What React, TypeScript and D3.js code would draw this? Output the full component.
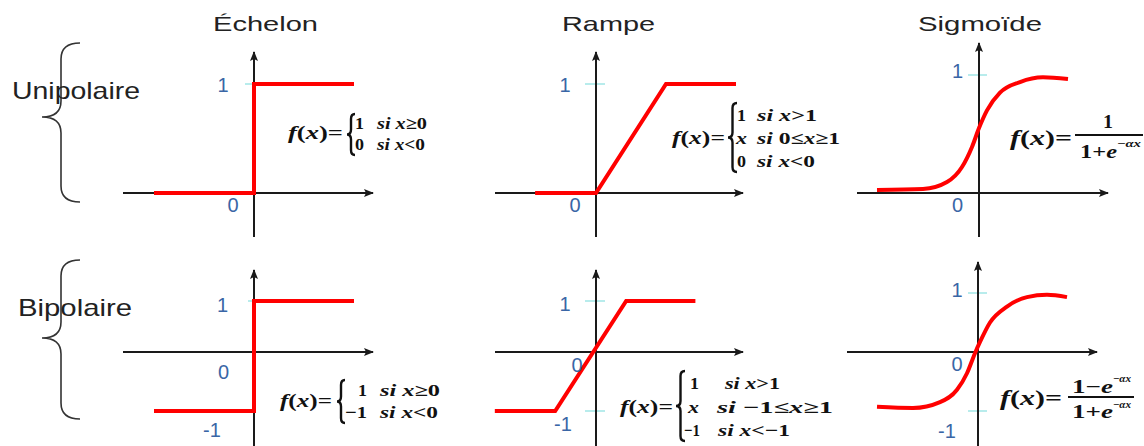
import React from "react";
import * as d3 from "d3";

type Pt = [number, number];

// ---- data (in each panel's own units) ----
const titles = ["Échelon", "Rampe", "Sigmoïde"];
const rowLabels = ["Unipolaire", "Bipolaire"];

const stepUni: Pt[] = [[-2, 0], [0, 0], [0, 1], [2, 1]];
const stepBi: Pt[] = [[-2, -1], [0, -1], [0, 1], [2, 1]];
const rampUni: Pt[] = [[-0.87, 0], [0, 0], [1, 1], [2, 1]];
const rampBi: Pt[] = [[-2.85, -1], [-1.15, -1], [0.85, 1], [2.8, 1]];
const sigUni: Pt[] = [
  [-4.08, 0.025], [-2.24, 0.034], [-1.28, 0.093], [-0.68, 0.22], [-0.28, 0.39],
  [0, 0.55], [0.32, 0.7], [0.84, 0.85], [1.64, 0.94], [2.56, 0.98], [3.56, 0.966],
];
const sigBi: Pt[] = [
  [-4.04, -0.93], [-2.6, -0.95], [-1.52, -0.85], [-0.84, -0.64], [-0.44, -0.36],
  [-0.12, -0.02], [0.08, 0.17], [0.48, 0.5], [1.16, 0.77], [1.96, 0.93],
  [2.76, 0.97], [3.56, 0.93],
];
const tickLabelsUni = ["1", "0"];
const tickLabelsBi = ["1", "0", "-1"];
const tickValuesUni = [1, 0];
const tickValuesBi = [1, 0, -1];

// ---- layout ----
const W = 1144;
const H = 446;
const RED = "#ff0000";
const AXIS = "#1a1a1a";
const BLUE = "#3a66a6";
const CYAN = "#b8ecec";

type Panel = {
  data: Pt[];
  smooth: boolean;
  axisX: number;
  axisY: number;
  yTop: number;
  yBottom: number;
  xStart: number;
  xEnd: number;
  xUnit: number;
  yDom: number[];
  yRng: number[];
  ticks: { v: number; x0: number; x1: number }[];
  labels: string[];
  values: number[];
  lx: number[];
  ly: number[];
};

const panels: Panel[] = [
  {
    data: stepUni, smooth: false, axisX: 254, axisY: 193, yTop: 52, yBottom: 237,
    xStart: 123, xEnd: 373, xUnit: 50, yDom: [0, 1], yRng: [193, 84],
    ticks: [{ v: 1, x0: 245, x1: 254 }],
    labels: tickLabelsUni, values: tickValuesUni, lx: [223, 233], ly: [85, 204.5],
  },
  {
    data: rampUni, smooth: false, axisX: 596, axisY: 193, yTop: 52, yBottom: 237,
    xStart: 495, xEnd: 743, xUnit: 70, yDom: [0, 1], yRng: [193, 84],
    ticks: [{ v: 1, x0: 585, x1: 605 }],
    labels: tickLabelsUni, values: tickValuesUni, lx: [565, 575], ly: [85, 204.5],
  },
  {
    data: sigUni, smooth: true, axisX: 979, axisY: 193, yTop: 43, yBottom: 237,
    xStart: 857, xEnd: 1108, xUnit: 25, yDom: [0, 1], yRng: [193, 75],
    ticks: [{ v: 1, x0: 968, x1: 987 }],
    labels: tickLabelsUni, values: tickValuesUni, lx: [957.5, 957.5], ly: [71, 204.5],
  },
  {
    data: stepBi, smooth: false, axisX: 254, axisY: 352, yTop: 270, yBottom: 446,
    xStart: 123, xEnd: 373, xUnit: 50, yDom: [-1, 0, 1], yRng: [411, 352, 301],
    ticks: [{ v: 1, x0: 248, x1: 254 }],
    labels: tickLabelsBi, values: tickValuesBi, lx: [222.5, 223.5, 212], ly: [304.5, 372, 430],
  },
  {
    data: rampBi, smooth: false, axisX: 596, axisY: 352, yTop: 270, yBottom: 446,
    xStart: 495, xEnd: 743, xUnit: 35.5, yDom: [-1, 0, 1], yRng: [411, 352, 301],
    ticks: [{ v: 1, x0: 585, x1: 605 }, { v: -1, x0: 585, x1: 605 }],
    labels: tickLabelsBi, values: tickValuesBi, lx: [565, 577, 563], ly: [304, 365, 424],
  },
  {
    data: sigBi, smooth: true, axisX: 978, axisY: 352, yTop: 262, yBottom: 446,
    xStart: 847, xEnd: 1097, xUnit: 25, yDom: [-1, 0, 1], yRng: [411, 352, 293],
    ticks: [{ v: 1, x0: 968, x1: 987 }, { v: -1, x0: 968, x1: 987 }],
    labels: tickLabelsBi, values: tickValuesBi, lx: [957, 957, 947], ly: [289.5, 364, 431],
  },
];

const titleLayout = [
  { x: 213, w: 105 },
  { x: 562, w: 93 },
  { x: 918, w: 124 },
];
const rowLayout = [
  { x: 12, w: 128, y: 90, brace: { x0: 42, w: 38, y0: 43, ym: 117, y1: 202 } },
  { x: 18, w: 114, y: 307, brace: { x0: 42, w: 38, y0: 260, ym: 338, y1: 419 } },
];

function bracePath(x0: number, w: number, y0: number, ym: number, y1: number, r: number) {
  const xm = x0 + w / 2;
  return [
    `M${x0 + w},${y0}`,
    `Q${xm},${y0} ${xm},${y0 + r}`,
    `L${xm},${ym - r}`,
    `Q${xm},${ym} ${x0},${ym}`,
    `Q${xm},${ym} ${xm},${ym + r}`,
    `L${xm},${y1 - r}`,
    `Q${xm},${y1} ${x0 + w},${y1}`,
  ].join(" ");
}

const SERIF = "'Liberation Serif', 'Times New Roman', serif";
const SANS = "'Liberation Sans', Arial, sans-serif";

type Seg = { t: string; it?: boolean };
type Piece = { x: number; y: number; w: number; segs: Seg[]; size?: number };

function T({ p }: { p: Piece }) {
  return (
    <text
      x={p.x}
      y={p.y}
      textLength={p.w}
      lengthAdjust="spacingAndGlyphs"
      dominantBaseline="central"
      fontFamily={SERIF}
      fontWeight="bold"
      fontSize={p.size ?? 17}
      fill="#111"
    >
      {p.segs.map((s, i) => (
        <tspan key={i} fontStyle={s.it ? "italic" : "normal"}>
          {s.t}
        </tspan>
      ))}
    </text>
  );
}

const fx: Seg[] = [{ t: "f", it: true }, { t: "(" }, { t: "x", it: true }, { t: ")=" }];

const formulaPieces: Piece[] = [
  // step unipolar
  { x: 288, y: 133, w: 55, segs: fx, size: 18 },
  { x: 355, y: 123, w: 9, segs: [{ t: "1" }] },
  { x: 377, y: 123, w: 50, segs: [{ t: "si x", it: true }, { t: "≥0" }] },
  { x: 355, y: 144, w: 9, segs: [{ t: "0" }] },
  { x: 377, y: 144, w: 48, segs: [{ t: "si x", it: true }, { t: "<0" }] },
  // ramp unipolar
  { x: 672, y: 138, w: 53, segs: fx, size: 18 },
  { x: 737, y: 115, w: 9, segs: [{ t: "1" }] },
  { x: 757, y: 115, w: 60, segs: [{ t: "si x", it: true }, { t: ">1" }] },
  { x: 736, y: 138, w: 11, segs: [{ t: "x", it: true }] },
  { x: 757, y: 138, w: 83, segs: [{ t: "si ", it: true }, { t: "0≤" }, { t: "x", it: true }, { t: "≥1" }] },
  { x: 737, y: 161, w: 9, segs: [{ t: "0" }] },
  { x: 757, y: 161, w: 58, segs: [{ t: "si x", it: true }, { t: "<0" }] },
  // sigmoid unipolar
  { x: 1010, y: 138, w: 62, segs: fx, size: 20 },
  { x: 1103, y: 121, w: 10, segs: [{ t: "1" }], size: 19 },
  { x: 1080, y: 151, w: 37, segs: [{ t: "1+" }, { t: "e", it: true }], size: 19 },
  { x: 1117, y: 143, w: 24, segs: [{ t: "−" }, { t: "αx", it: true }], size: 11 },
  // step bipolar
  { x: 280, y: 401, w: 52, segs: fx, size: 18 },
  { x: 358, y: 390, w: 9, segs: [{ t: "1" }] },
  { x: 380, y: 390, w: 60, segs: [{ t: "si x", it: true }, { t: "≥0" }] },
  { x: 345, y: 412, w: 22, segs: [{ t: "−1" }] },
  { x: 380, y: 412, w: 58, segs: [{ t: "si x", it: true }, { t: "<0" }] },
  // ramp bipolar
  { x: 620, y: 407, w: 53, segs: fx, size: 18 },
  { x: 690, y: 383, w: 9, segs: [{ t: "1" }] },
  { x: 725, y: 383, w: 55, segs: [{ t: "si x", it: true }, { t: ">1" }] },
  { x: 688, y: 407, w: 11, segs: [{ t: "x", it: true }] },
  { x: 717, y: 407, w: 116, segs: [{ t: "si ", it: true }, { t: "−1≤" }, { t: "x", it: true }, { t: "≥1" }] },
  { x: 684, y: 430, w: 16, segs: [{ t: "−1" }] },
  { x: 718, y: 430, w: 72, segs: [{ t: "si x", it: true }, { t: "<−1" }] },
  // sigmoid bipolar
  { x: 1000, y: 398, w: 62, segs: fx, size: 20 },
  { x: 1072, y: 386, w: 41, segs: [{ t: "1−" }, { t: "e", it: true }], size: 19 },
  { x: 1113, y: 378, w: 18, segs: [{ t: "−" }, { t: "αx", it: true }], size: 11 },
  { x: 1072, y: 411, w: 41, segs: [{ t: "1+" }, { t: "e", it: true }], size: 19 },
  { x: 1113, y: 404, w: 18, segs: [{ t: "−" }, { t: "αx", it: true }], size: 11 },
];

const formulaBraces = [
  { x0: 347, w: 8, y0: 114, y1: 155 },
  { x0: 728, w: 9, y0: 103, y1: 172 },
  { x0: 337, w: 8, y0: 380, y1: 423 },
  { x0: 676, w: 9, y0: 371, y1: 441 },
];
const fractionBars = [
  { x0: 1075, x1: 1143, y: 135 },
  { x0: 1068, x1: 1134, y: 397 },
];

export default function App() {
  return (
    <svg
      width={W}
      height={H}
      style={{ position: "absolute", left: 0, top: 0, background: "#fff" }}
    >
      <defs>
        <marker
          id="arr"
          viewBox="0 0 10 8"
          refX={9}
          refY={4}
          markerWidth={10}
          markerHeight={8}
          markerUnits="userSpaceOnUse"
          orient="auto"
        >
          <path d="M0,0 L10,4 L0,8 L2,4 z" fill={AXIS} />
        </marker>
      </defs>
      <rect width={W} height={H} fill="#fff" />

      {titles.map((t, i) => (
        <text
          key={t}
          x={titleLayout[i].x}
          y={31}
          textLength={titleLayout[i].w}
          lengthAdjust="spacingAndGlyphs"
          fontFamily={SANS}
          fontSize={21}
          fill="#222"
        >
          {t}
        </text>
      ))}

      {rowLabels.map((t, i) => {
        const r = rowLayout[i];
        const b = r.brace;
        return (
          <g key={t}>
            <path
              d={bracePath(b.x0, b.w, b.y0, b.ym, b.y1, 16)}
              fill="none"
              stroke="#333"
              strokeWidth={1.6}
            />
            <text
              x={r.x}
              y={r.y}
              textLength={r.w}
              lengthAdjust="spacingAndGlyphs"
              dominantBaseline="central"
              fontFamily={SANS}
              fontSize={24}
              fill="#222"
            >
              {t}
            </text>
          </g>
        );
      })}

      {panels.map((p, i) => {
        const x = d3.scaleLinear().domain([0, 1]).range([p.axisX, p.axisX + p.xUnit]);
        const y = d3.scaleLinear().domain(p.yDom).range(p.yRng);
        const line = d3
          .line<Pt>()
          .x((d) => x(d[0]))
          .y((d) => y(d[1]))
          .curve(p.smooth ? d3.curveMonotoneX : d3.curveLinear);
        return (
          <g key={i}>
            {p.ticks.map((t, j) => (
              <line
                key={j}
                x1={t.x0}
                x2={t.x1}
                y1={y(t.v)}
                y2={y(t.v)}
                stroke={CYAN}
                strokeWidth={2}
              />
            ))}
            <line
              x1={p.xStart}
              x2={p.xEnd}
              y1={p.axisY}
              y2={p.axisY}
              stroke={AXIS}
              strokeWidth={2}
              markerEnd="url(#arr)"
            />
            <line
              x1={p.axisX}
              x2={p.axisX}
              y1={p.yBottom}
              y2={p.yTop}
              stroke={AXIS}
              strokeWidth={2}
              markerEnd="url(#arr)"
            />
            <path
              d={line(p.data) ?? ""}
              fill="none"
              stroke={RED}
              strokeWidth={4}
              strokeLinejoin="miter"
            />
            {p.labels.map((l, j) => (
              <text
                key={l}
                x={p.lx[j]}
                y={p.ly[j]}
                textAnchor="middle"
                dominantBaseline="central"
                fontFamily={SANS}
                fontSize={20}
                fill={BLUE}
              >
                {l}
              </text>
            ))}
          </g>
        );
      })}

      {formulaBraces.map((b, i) => (
        <path
          key={i}
          d={bracePath(b.x0, b.w, b.y0, (b.y0 + b.y1) / 2, b.y1, 5)}
          fill="none"
          stroke="#111"
          strokeWidth={2.4}
        />
      ))}
      {fractionBars.map((f, i) => (
        <line key={i} x1={f.x0} x2={f.x1} y1={f.y} y2={f.y} stroke="#111" strokeWidth={1.8} />
      ))}
      {formulaPieces.map((p, i) => (
        <T key={i} p={p} />
      ))}
    </svg>
  );
}
